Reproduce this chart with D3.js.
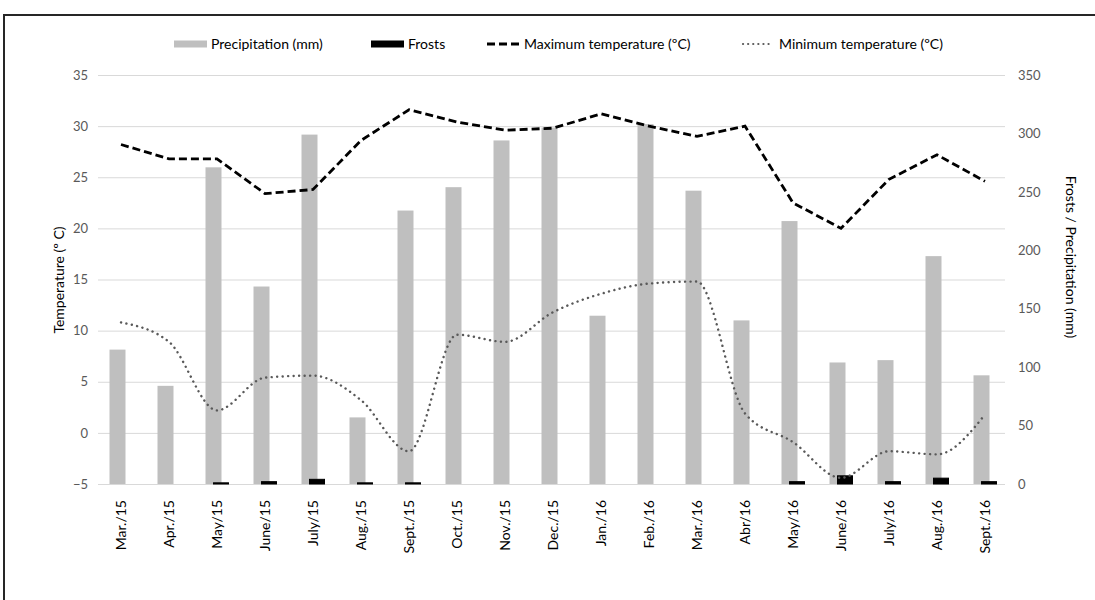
<!DOCTYPE html>
<html>
<head>
<meta charset="utf-8">
<script src="https://cdn.jsdelivr.net/npm/d3@7"></script>
<style>
  html, body { margin: 0; padding: 0; background: #fff; }
  svg { display: block; font-family: Lato, "Open Sans", sans-serif; }
</style>
</head>
<body>
<svg id="chart" width="1095" height="600"></svg>
<script>
// Monthly climate series, March 2015 – September 2016
const months = ["Mar./15","Apr./15","May/15","June/15","July/15","Aug./15","Sept./15","Oct./15","Nov./15",
  "Dec./15","Jan./16","Feb./16","Mar./16","Abr/16","May/16","June/16","July/16","Aug./16","Sept./16"];
const precipitation = [115, 84, 271, 169, 299, 57, 234, 254, 294, 305, 144, 308, 251, 140, 225, 104, 106, 195, 93];
const frosts = [0, 0, 1, 2, 4, 1, 1, 0, 0, 0, 0, 0, 0, 0, 2, 7, 2, 5, 2];
const maxTemp = [28.2, 26.8, 26.8, 23.4, 23.8, 28.6, 31.6, 30.4, 29.6, 29.8, 31.2, 30.0, 29.0, 30.0, 22.5, 20.0, 24.8, 27.2, 24.6];
const minTemp = [10.8, 8.9, 2.2, 5.4, 5.6, 3.2, -1.8, 9.6, 8.9, 11.8, 13.6, 14.6, 14.8, 1.9, -0.9, -4.4, -1.8, -2.1, 1.8];
const tempTicks = [-5, 0, 5, 10, 15, 20, 25, 30, 35];
const precipTicks = [0, 50, 100, 150, 200, 250, 300, 350];

const svg = d3.select("#chart");
const plotLeft = 97, plotRight = 1009, plotTop = 75, plotBottom = 484;

// outer frame
svg.append("rect").attr("x", 4).attr("y", 15).attr("width", 1200).attr("height", 700)
  .attr("fill", "none").attr("stroke", "#262626").attr("stroke-width", 2);

const x = d3.scaleBand().domain(months).range([plotLeft, plotRight]).paddingInner(0).paddingOuter(0);
const yT = d3.scaleLinear().domain([-5, 35]).range([plotBottom, plotTop]);
const yP = d3.scaleLinear().domain([0, 350]).range([plotBottom, plotTop]);
const cx = m => x(m) + x.bandwidth() / 2;

// horizontal gridlines
svg.append("g").selectAll("line").data(tempTicks).join("line")
  .attr("x1", plotLeft + 1).attr("x2", plotRight - 4)
  .attr("y1", d => yT(d) + 0.5).attr("y2", d => yT(d) + 0.5)
  .attr("stroke", "#d9d9d9").attr("stroke-width", 1);

// left axis
const axL = svg.append("g").attr("transform", `translate(${plotLeft - 9},0)`)
  .call(d3.axisLeft(yT).tickValues(tempTicks).tickSize(0).tickPadding(0));
axL.select(".domain").remove();
axL.selectAll("text").attr("fill", "#595959").style("font-size", "13px").style("font-family", "Lato");

// right axis
const axR = svg.append("g").attr("transform", `translate(${plotRight + 9},0)`)
  .call(d3.axisRight(yP).tickValues(precipTicks).tickSize(0).tickPadding(0));
axR.select(".domain").remove();
axR.selectAll("text").attr("fill", "#595959").style("font-size", "13px").style("font-family", "Lato");

// axis titles
svg.append("text").attr("transform", "translate(64,280) rotate(-90)")
  .attr("text-anchor", "middle").attr("font-size", 14).attr("fill", "#000")
  .text("Temperature (º C)");
svg.append("text").attr("transform", "translate(1066,257) rotate(90)")
  .attr("text-anchor", "middle").attr("font-size", 14).attr("fill", "#000")
  .text("Frosts / Precipitation (mm)");

// category labels
svg.append("g").selectAll("text").data(months).join("text")
  .attr("transform", d => `translate(${cx(d) + 5},500) rotate(-90)`)
  .attr("text-anchor", "end").attr("font-size", 14).attr("fill", "#000")
  .text(d => d);

// precipitation bars
svg.append("g").selectAll("rect").data(months).join("rect")
  .attr("x", d => cx(d) - 11.5).attr("width", 16)
  .attr("y", (d, i) => yP(precipitation[i]))
  .attr("height", (d, i) => yP(0) - yP(precipitation[i]))
  .attr("fill", "#bfbfbf");

// frost bars
svg.append("g").selectAll("rect").data(months.filter((d, i) => frosts[i] > 0)).join("rect")
  .attr("x", d => cx(d) - 3.5).attr("width", 15)
  .attr("y", d => yP(frosts[months.indexOf(d)]))
  .attr("height", d => yP(0) - yP(frosts[months.indexOf(d)]))
  .attr("fill", "#000").attr("stroke", "#000").attr("stroke-width", 1);

// maximum temperature line
svg.append("path").datum(maxTemp)
  .attr("d", d3.line().x((d, i) => cx(months[i])).y(d => yT(d)))
  .attr("fill", "none").attr("stroke", "#000").attr("stroke-width", 2.8)
  .attr("stroke-dasharray", "8,4");

// minimum temperature line
svg.append("path").datum(minTemp)
  .attr("d", d3.line().x((d, i) => cx(months[i])).y(d => yT(d)).curve(d3.curveMonotoneX))
  .attr("fill", "none").attr("stroke", "#595959").attr("stroke-width", 2.4)
  .attr("stroke-linecap", "round").attr("stroke-dasharray", "0.1,5.4");

// legend
const legend = svg.append("g").attr("font-size", 14).attr("fill", "#000");
const ly = 44;
legend.append("rect").attr("x", 174).attr("y", ly - 3.5).attr("width", 33).attr("height", 7).attr("fill", "#bfbfbf");
legend.append("text").attr("x", 211).attr("y", ly + 5).text("Precipitation (mm)");
legend.append("rect").attr("x", 371).attr("y", ly - 3.5).attr("width", 33).attr("height", 7).attr("fill", "#000");
legend.append("text").attr("x", 408).attr("y", ly + 5).text("Frosts");
legend.append("line").attr("x1", 487).attr("x2", 519).attr("y1", ly).attr("y2", ly)
  .attr("stroke", "#000").attr("stroke-width", 2.8).attr("stroke-dasharray", "8,4");
legend.append("text").attr("x", 524).attr("y", ly + 5).text("Maximum temperature (ºC)");
legend.append("line").attr("x1", 743).attr("x2", 773).attr("y1", ly).attr("y2", ly)
  .attr("stroke", "#595959").attr("stroke-width", 2.2).attr("stroke-linecap", "round")
  .attr("stroke-dasharray", "0.1,5");
legend.append("text").attr("x", 779).attr("y", ly + 5).text("Minimum temperature (ºC)");
</script>
</body>
</html>
